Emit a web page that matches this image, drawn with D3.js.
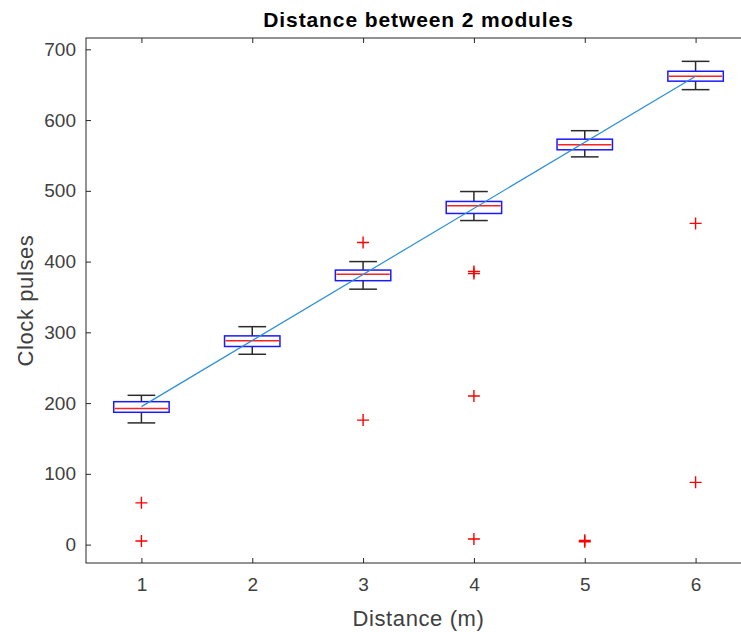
<!DOCTYPE html>
<html>
<head>
<meta charset="utf-8">
<script src="https://cdn.jsdelivr.net/npm/d3@7"></script>
<style>
  html, body { margin: 0; padding: 0; background: #fff; }
  svg { display: block; font-family: "Liberation Sans", Arial, Helvetica, sans-serif; }
</style>
</head>
<body>
<svg id="chart" width="741" height="632"></svg>
<script>
// Distance between two modules: clock pulse counts per distance
const distances = [1, 2, 3, 4, 5, 6];
const q1 = [187, 280, 373, 468, 558, 655];
const medians = [192.5, 288, 382, 479, 565, 662];
const q3 = [202, 295, 388, 485, 573, 669];
const whiskerLow = [172, 269, 361, 458, 548, 643];
const whiskerHigh = [211, 308, 400, 499, 585, 683];
const outliers = [
  [59, 5],
  [],
  [427, 176],
  [386, 383, 210, 8],
  [6, 4],
  [454, 88]
];
// Fitted line endpoints
const fitLine = [[1, 195], [6, 662]];
const yTicks = [0, 100, 200, 300, 400, 500, 600, 700];

const svg = d3.select("#chart");
const plotLeft = 86, plotRight = 751, plotTop = 38, plotBottom = 563;

const x = d3.scaleLinear().domain([0.5, 6.5]).range([plotLeft, plotRight]);
const y = d3.scaleLinear().domain([-26, 716]).range([plotBottom, plotTop]);

const axisColor = "#262626";
const labelColor = "#404040";

// Axes frame
svg.append("rect")
  .attr("x", plotLeft).attr("y", plotTop)
  .attr("width", plotRight - plotLeft).attr("height", plotBottom - plotTop)
  .attr("fill", "none").attr("stroke", axisColor).attr("stroke-width", 1);

// Left axis (ticks point inward)
const yAxis = svg.append("g").attr("transform", `translate(${plotLeft},0)`)
  .call(d3.axisLeft(y).tickValues(yTicks).tickSizeInner(-5).tickSizeOuter(0).tickPadding(10));
yAxis.select(".domain").remove();
yAxis.selectAll("line").attr("stroke", axisColor);
yAxis.selectAll("text").attr("fill", labelColor).style("font-size", "19px");

// Bottom axis
const xAxis = svg.append("g").attr("transform", `translate(0,${plotBottom})`)
  .call(d3.axisBottom(x).tickValues(distances).tickFormat(d3.format("d")).tickSizeInner(-5).tickSizeOuter(0).tickPadding(15));
xAxis.select(".domain").remove();
xAxis.selectAll("line").attr("stroke", axisColor);
xAxis.selectAll("text").attr("fill", labelColor).style("font-size", "19px");

// Top border ticks
svg.append("g").attr("transform", `translate(0,${plotTop})`)
  .call(d3.axisTop(x).tickValues(distances).tickSizeInner(-5).tickSizeOuter(0).tickFormat(""))
  .call(g => g.select(".domain").remove())
  .selectAll("line").attr("stroke", axisColor);

const boxHalf = x(1.25) - x(1);
const capHalf = x(1.125) - x(1);

const groups = svg.append("g").selectAll("g.box")
  .data(distances.map((d, i) => ({
    d, q1: q1[i], med: medians[i], q3: q3[i],
    lo: whiskerLow[i], hi: whiskerHigh[i], out: outliers[i]
  })))
  .join("g").attr("class", "box");

const whiskerColor = "#2b2b2b";
// Whiskers
groups.append("line")
  .attr("x1", b => x(b.d)).attr("x2", b => x(b.d))
  .attr("y1", b => y(b.q3)).attr("y2", b => y(b.hi))
  .attr("stroke", whiskerColor).attr("stroke-width", 1.5);
groups.append("line")
  .attr("x1", b => x(b.d)).attr("x2", b => x(b.d))
  .attr("y1", b => y(b.q1)).attr("y2", b => y(b.lo))
  .attr("stroke", whiskerColor).attr("stroke-width", 1.5);
// Caps
groups.append("line")
  .attr("x1", b => x(b.d) - capHalf).attr("x2", b => x(b.d) + capHalf)
  .attr("y1", b => y(b.hi)).attr("y2", b => y(b.hi))
  .attr("stroke", whiskerColor).attr("stroke-width", 1.5);
groups.append("line")
  .attr("x1", b => x(b.d) - capHalf).attr("x2", b => x(b.d) + capHalf)
  .attr("y1", b => y(b.lo)).attr("y2", b => y(b.lo))
  .attr("stroke", whiskerColor).attr("stroke-width", 1.5);
// Boxes
groups.append("rect")
  .attr("x", b => x(b.d) - boxHalf)
  .attr("y", b => y(b.q3))
  .attr("width", 2 * boxHalf)
  .attr("height", b => y(b.q1) - y(b.q3))
  .attr("fill", "none").attr("stroke", "#1a1aff").attr("stroke-width", 1.5);
// Medians
groups.append("line")
  .attr("x1", b => x(b.d) - boxHalf + 1).attr("x2", b => x(b.d) + boxHalf - 1)
  .attr("y1", b => y(b.med)).attr("y2", b => y(b.med))
  .attr("stroke", "#ff2020").attr("stroke-width", 1.5);

// Outliers as red plus markers
const plus = 6;
groups.selectAll("path.out")
  .data(b => b.out.map(v => ({ d: b.d, v })))
  .join("path").attr("class", "out")
  .attr("d", o => {
    const cx = x(o.d), cy = y(o.v);
    return `M${cx - plus},${cy}H${cx + plus}M${cx},${cy - plus}V${cy + plus}`;
  })
  .attr("stroke", "#ff0000").attr("stroke-width", 1.4).attr("fill", "none");

// Fitted line
svg.append("path")
  .datum(fitLine)
  .attr("d", d3.line().x(p => x(p[0])).y(p => y(p[1])))
  .attr("stroke", "#2a8fd4").attr("stroke-width", 1.2).attr("fill", "none");

// Title and axis labels
svg.append("text")
  .attr("x", (plotLeft + plotRight) / 2).attr("y", 27)
  .attr("text-anchor", "middle")
  .style("font-size", "21px").style("font-weight", "bold")
  .style("letter-spacing", "0.9px").attr("fill", "#000")
  .text("Distance between 2 modules");

svg.append("text")
  .attr("x", (plotLeft + plotRight) / 2).attr("y", 626)
  .attr("text-anchor", "middle")
  .style("font-size", "22px").style("letter-spacing", "0.6px").attr("fill", labelColor)
  .text("Distance (m)");

svg.append("text")
  .attr("transform", `translate(33,${(plotTop + plotBottom) / 2}) rotate(-90)`)
  .attr("text-anchor", "middle")
  .style("font-size", "22px").style("letter-spacing", "0.6px").attr("fill", labelColor)
  .text("Clock pulses");
</script>
</body>
</html>
